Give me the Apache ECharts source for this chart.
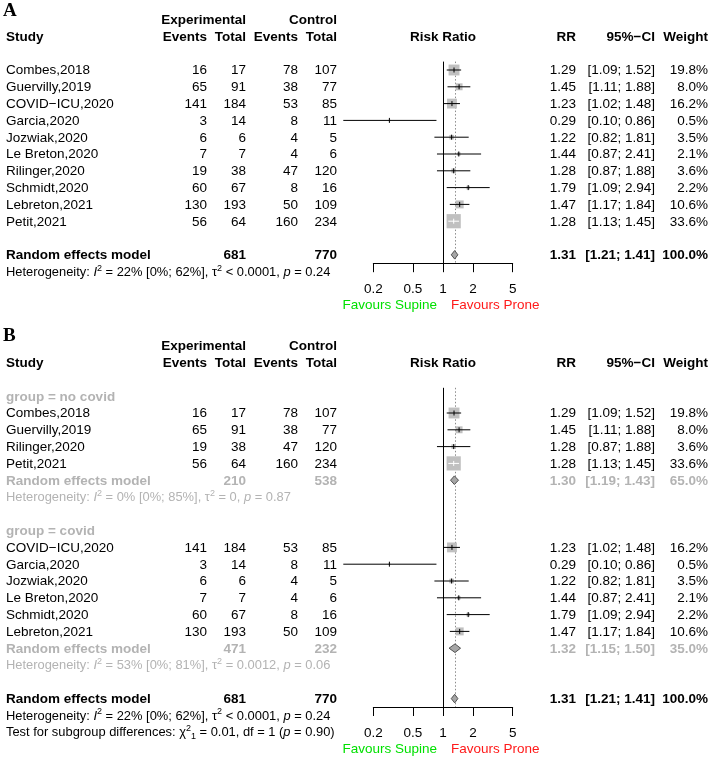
<!DOCTYPE html>
<html><head><meta charset="utf-8">
<script src="https://cdn.jsdelivr.net/npm/echarts@6.0.0/dist/echarts.min.js"></script>
<style>html,body{margin:0;padding:0;background:#fff;}#c{width:710px;height:758px;}</style>
</head><body><div id="c"></div>
<script>
// ---------------- DATA ----------------
const studies = ['Combes,2018','Guervilly,2019','COVID\u2212ICU,2020','Garcia,2020','Jozwiak,2020','Le Breton,2020','Rilinger,2020','Schmidt,2020','Lebreton,2021','Petit,2021'];
const expEvents = [16,65,141,3,6,7,19,60,130,56];
const expTotal = [17,91,184,14,6,7,38,67,193,64];
const ctrlEvents = [78,38,53,8,4,4,47,8,50,160];
const ctrlTotal = [107,77,85,11,5,6,120,16,109,234];
const rr = [1.29,1.45,1.23,0.29,1.22,1.44,1.28,1.79,1.47,1.28];
const ciLow = [1.09,1.11,1.02,0.10,0.82,0.87,0.87,1.09,1.17,1.13];
const ciHigh = [1.52,1.88,1.48,0.86,1.81,2.41,1.88,2.94,1.84,1.45];
const weight = [19.8,8.0,16.2,0.5,3.5,2.1,3.6,2.2,10.6,33.6];
const group = ['no covid','no covid','covid','covid','covid','covid','no covid','covid','covid','no covid'];
const groupOrder = ['no covid','covid'];

// pooled: index 0 = overall, 1 = no covid, 2 = covid
const pooledRR = [1.31,1.30,1.32];
const pooledLo = [1.21,1.19,1.15];
const pooledHi = [1.41,1.43,1.50];
const pooledW = [100.0,65.0,35.0];
const pooledExpTotal = [681,210,471];
const pooledCtrlTotal = [770,538,232];
const hetI2 = ['22%','0%','53%'];
const hetI2CI = ['[0%; 62%]','[0%; 85%]','[0%; 81%]'];
const hetTau = ['< 0.0001','= 0','= 0.0012'];
const hetP = ['0.24','0.87','0.06'];
const testChi2 = '0.01', testDf = '1', testP = '0.90';
const tickValues = [0.2,0.5,1,2,5];
const refValue = 1;

// ---------------- LAYOUT / STYLE ----------------
const FONT = '"Liberation Sans", Arial, Helvetica, sans-serif';
const FS = 13.5, HFS = 12.9;
const COLS = {
  study:{x:6,align:'left'}, ee:{x:207,align:'right'}, et:{x:246,align:'right'},
  ce:{x:298,align:'right'}, ct:{x:337,align:'right'}, rr:{x:576,align:'right'},
  ci:{x:655,align:'right'}, w:{x:708,align:'right'}
};
const GRAY = '#b3b3b3';
const STYLES = {
  normal:{fill:'#000'}, bold:{fill:'#000',fontWeight:'bold'},
  gray:{fill:GRAY}, grayBold:{fill:GRAY,fontWeight:'bold'},
  green:{fill:'#00e000'}, red:{fill:'#ff1a1a'},
  het:{fill:'#000',fontSize:HFS}, hetGray:{fill:GRAY,fontSize:HFS}
};
const RICH = {
  n:{fontSize:HFS,fontFamily:FONT},
  i:{fontSize:HFS,fontFamily:FONT,fontStyle:'italic'},
  s:{fontSize:9,fontFamily:FONT,padding:[0,0,8,0]},
  b:{fontSize:9,fontFamily:FONT,padding:[8,0,0,0]}
};

const f2 = v => v.toFixed(2);
const ciStr = (lo,hi) => '[' + f2(lo) + '; ' + f2(hi) + ']';
const wStr = w => w.toFixed(1) + '%';
const hetStr = k => '{n|Heterogeneity: }{i|I}{s|2}{n| = ' + hetI2[k] + ' ' + hetI2CI[k] + ', \u03c4}{s|2}{n| ' + hetTau[k] + ', }{i|p}{n| = ' + hetP[k] + '}';
const testStr = '{n|Test for subgroup differences: \u03c7}{s|2}{b|1}{n| = ' + testChi2 + ', df = ' + testDf + ' (}{i|p}{n| = ' + testP + ')}';

function headerSpecs(specs, r1){
  specs.push({r:r1, col:'et', t:'Experimental', kind:'bold'});
  specs.push({r:r1, col:'ct', t:'Control', kind:'bold'});
  const r2 = r1 + 1;
  [['study','Study'],['ee','Events'],['et','Total'],['ce','Events'],['ct','Total'],['rr','RR'],['ci','95%\u2212CI'],['w','Weight']]
    .forEach(([c,t]) => specs.push({r:r2, col:c, t, kind:'bold'}));
  specs.push({r:r2, col:'ref', t:'Risk Ratio', kind:'bold'});
}
function studySpecs(specs, forest, i, r){
  const k = 'normal';
  specs.push({r, col:'study', t:studies[i], kind:k});
  specs.push({r, col:'ee', t:String(expEvents[i]), kind:k});
  specs.push({r, col:'et', t:String(expTotal[i]), kind:k});
  specs.push({r, col:'ce', t:String(ctrlEvents[i]), kind:k});
  specs.push({r, col:'ct', t:String(ctrlTotal[i]), kind:k});
  specs.push({r, col:'rr', t:f2(rr[i]), kind:k});
  specs.push({r, col:'ci', t:ciStr(ciLow[i],ciHigh[i]), kind:k});
  specs.push({r, col:'w', t:wStr(weight[i]), kind:k});
  forest.push([rr[i], r, ciLow[i], ciHigh[i], weight[i], 0]);
}
function pooledSpecs(specs, forest, k, r, kind){
  specs.push({r, col:'study', t:'Random effects model', kind});
  specs.push({r, col:'et', t:String(pooledExpTotal[k]), kind});
  specs.push({r, col:'ct', t:String(pooledCtrlTotal[k]), kind});
  specs.push({r, col:'rr', t:f2(pooledRR[k]), kind});
  specs.push({r, col:'ci', t:ciStr(pooledLo[k],pooledHi[k]), kind});
  specs.push({r, col:'w', t:wStr(pooledW[k]), kind});
  forest.push([pooledRR[k], r, pooledLo[k], pooledHi[k], pooledW[k], 1]);
}
function favourSpecs(specs, r){
  specs.push({r, col:'favL', t:'Favours Supine', kind:'green'});
  specs.push({r, col:'favR', t:'Favours Prone', kind:'red'});
}

// Panel A
const specsA = [], forestA = [];
headerSpecs(specsA, -3);
studies.forEach((s,i) => studySpecs(specsA, forestA, i, i));
const rowOverallA = studies.length + 1;
pooledSpecs(specsA, forestA, 0, rowOverallA, 'bold');
specsA.push({r:rowOverallA + 1, col:'study', t:hetStr(0), kind:'het', rich:true});
const rowAxisA = rowOverallA + 0.5;
favourSpecs(specsA, rowAxisA + 2.45);

// Panel B
const specsB = [], forestB = [];
headerSpecs(specsB, -4);
let rowB = -1;
groupOrder.forEach((g, gi) => {
  specsB.push({r:rowB, col:'study', t:'group = ' + g, kind:'grayBold'});
  rowB++;
  studies.forEach((s,i) => { if (group[i] === g) { studySpecs(specsB, forestB, i, rowB); rowB++; } });
  pooledSpecs(specsB, forestB, gi + 1, rowB, 'grayBold'); rowB++;
  specsB.push({r:rowB, col:'study', t:hetStr(gi + 1), kind:'hetGray', rich:true}); rowB++;
  rowB++;
});
const rowOverallB = rowB;
pooledSpecs(specsB, forestB, 0, rowOverallB, 'bold');
specsB.push({r:rowOverallB + 1, col:'study', t:hetStr(0), kind:'het', rich:true});
specsB.push({r:rowOverallB + 2, col:'study', t:testStr, kind:'het', rich:true});
const rowAxisB = rowOverallB + 0.5;
favourSpecs(specsB, rowAxisB + 2.5);

// ---------------- RENDER ----------------
function textRender(specs){
  return function(params, api){
    const s = specs[api.value(2)];
    const p = api.coord([refValue, s.r]);
    let x, align;
    if (s.col === 'ref') { x = p[0]; align = 'center'; }
    else if (s.col === 'favL') { x = p[0] - 6; align = 'right'; }
    else if (s.col === 'favR') { x = p[0] + 8; align = 'left'; }
    else { x = COLS[s.col].x; align = COLS[s.col].align; }
    const st = STYLES[s.kind];
    const style = {
      text: s.t, x: x, y: p[1] + 0.6, fill: st.fill,
      fontSize: st.fontSize || FS, fontWeight: st.fontWeight || 'normal', fontFamily: FONT,
      align: align, textAlign: align, verticalAlign: 'middle', textVerticalAlign: 'middle'
    };
    if (s.rich) style.rich = RICH;
    return {type:'text', style: style};
  };
}
function forestRender(params, api){
  const est = api.value(0), r = api.value(1), lo = api.value(2), hi = api.value(3), w = api.value(4), t = api.value(5);
  const c = api.coord([est, r]), pl = api.coord([lo, r]), ph = api.coord([hi, r]);
  if (t === 1) {
    const h = 4.3;
    return {type:'polygon', shape:{points:[[pl[0],c[1]],[c[0],c[1]-h],[ph[0],c[1]],[c[0],c[1]+h]]},
      style:{fill:'#a6a6a6', stroke:'#505050', lineWidth:1}};
  }
  const s = 14.2 * Math.sqrt(w / 33.6);
  const inside = pl[0] >= c[0] - s/2 && ph[0] <= c[0] + s/2;
  const lc = inside ? '#fff' : '#000';
  return {type:'group', children:[
    {type:'rect', shape:{x:c[0]-s/2, y:c[1]-s/2, width:s, height:s}, style:{fill:'#c0c0c0'}},
    {type:'line', shape:{x1:pl[0], y1:c[1], x2:ph[0], y2:c[1]}, style:{stroke:lc, lineWidth:1}},
    {type:'line', shape:{x1:c[0], y1:c[1]-2.5, x2:c[0], y2:c[1]+2.5}, style:{stroke:lc, lineWidth:1}}
  ]};
}
function refRender(params, api){
  const x = Math.round(api.coord([api.value(0), 0])[0]) + 0.5;
  const cs = params.coordSys;
  const dotted = api.value(2) === 1;
  return {type:'line', shape:{x1:x, y1:cs.y, x2:x, y2:cs.y + cs.height},
    style:{stroke: dotted ? '#8c8c8c' : '#000', lineWidth:1, lineDash: dotted ? [1.5,2] : null}};
}

const ROW = 16.8;
const topA = 70 - 0.5 * ROW, topB = 413 - 1.5 * ROW;
const axisCommon = {
  type:'log', logBase:10, min:0.2, max:5, position:'bottom',
  axisLine:{show:true, onZero:false, lineStyle:{color:'#000', width:1}},
  axisTick:{show:true, length:9, customValues:tickValues, lineStyle:{color:'#000', width:1}},
  minorTick:{show:false}, splitLine:{show:false},
  axisLabel:{customValues:tickValues, margin:19, fontSize:FS, color:'#000', fontFamily:FONT,
    formatter: v => String(+Number(v).toPrecision(3))}
};

const chart = echarts.init(document.getElementById('c'), null, {renderer:'canvas'});
chart.setOption({
  animation:false,
  backgroundColor:'#fff',
  graphic:[
    {type:'text', left:3, top:2, style:{text:'A', font:'bold 19px "Liberation Serif", "DejaVu Serif", serif', fill:'#000'}},
    {type:'text', left:3, top:327, style:{text:'B', font:'bold 19px "Liberation Serif", "DejaVu Serif", serif', fill:'#000'}}
  ],
  grid:[
    {left:373.3, top:topA, width:139.4, height:(rowAxisA + 0.5) * ROW, containLabel:false, outerBoundsMode:'none'},
    {left:373.3, top:topB, width:139.4, height:(rowAxisB + 1.5) * ROW, containLabel:false, outerBoundsMode:'none'}
  ],
  xAxis:[Object.assign({gridIndex:0}, axisCommon), Object.assign({gridIndex:1}, axisCommon)],
  yAxis:[
    {gridIndex:0, type:'value', inverse:true, min:-0.5, max:rowAxisA, show:false},
    {gridIndex:1, type:'value', inverse:true, min:-1.5, max:rowAxisB, show:false}
  ],
  series:[
    {type:'custom', xAxisIndex:0, yAxisIndex:0, z:1, clip:false, silent:true, renderItem:refRender, data:[[refValue,0,0],[pooledRR[0],0,1]]},
    {type:'custom', xAxisIndex:1, yAxisIndex:1, z:1, clip:false, silent:true, renderItem:refRender, data:[[refValue,0,0],[pooledRR[0],0,1]]},
    {type:'custom', xAxisIndex:0, yAxisIndex:0, z:3, clip:false, silent:true, renderItem:forestRender, data:forestA},
    {type:'custom', xAxisIndex:1, yAxisIndex:1, z:3, clip:false, silent:true, renderItem:forestRender, data:forestB},
    {type:'custom', xAxisIndex:0, yAxisIndex:0, z:4, clip:false, silent:true, renderItem:textRender(specsA), data:specsA.map((s,i) => [refValue, 0, i])},
    {type:'custom', xAxisIndex:1, yAxisIndex:1, z:4, clip:false, silent:true, renderItem:textRender(specsB), data:specsB.map((s,i) => [refValue, 0, i])}
  ]
});
</script>
</body></html>
